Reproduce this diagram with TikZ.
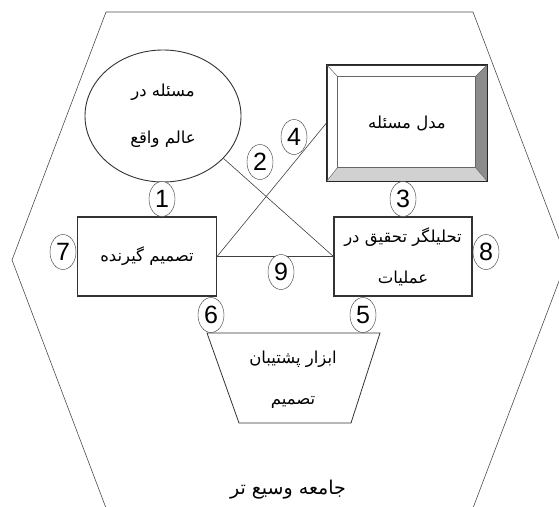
\documentclass[tikz,border=0pt]{standalone}
\usepackage{fontspec}
\setmainfont{Liberation Sans}
\newfontfamily\farsi[Script=Arabic]{DejaVu Sans}
\TeXXeTstate=1
\usetikzlibrary{shapes.geometric,calc}
\tikzset{
  numtag/.style={
    shape = ellipse,
    draw = black!80,
    fill = white,
    inner sep = 0pt,
    minimum width = 26pt,
    minimum height = 35pt,
    font = \fontsize{25}{25}\selectfont
  },
  plainbox/.style={
    draw = black!80,
    line width = 1.1pt,
    minimum width = 139pt,
    minimum height = 79pt,
    align = center,
    font = \farsi\fontsize{16.5}{41}\selectfont
  },
  link/.style={
    draw = black!75,
    line width = 0.6pt
  },
  every picture/.style = {
    x = 1pt,
    y = -1pt
  }
}

\begin{document}
\begin{tikzpicture}
  \useasboundingbox (0,0) rectangle (559,506);
  \clip (0,0) rectangle (559,506);
  % outer society
  \draw[black!70, line width=0.6pt] (106,12) -- (473,12) -- (567,260) -- (473,508)
    -- (106,508) -- (12,260) -- cycle;
  \node[font=\farsi\fontsize{19}{19}\selectfont] (soc) at (288,490) {\beginR جامعه وسیع تر\endR};

  \node[plainbox, shape=ellipse, line width=0.9pt, minimum width=156pt, minimum height=132pt]
    (circ) at (163,116) {\beginR مسئله در\endR\\[6pt]\beginR عالم واقع\endR};
  \node[plainbox, minimum width=160pt, minimum height=116pt] (mdl) at (407,123) {};
  \node[plainbox] (dm) at (147,256.5) {\beginR تصمیم گیرنده\endR};
  \node[plainbox, minimum width=138pt] (anl) at (403,256.5)
    {\beginR تحلیلگر تحقیق در\endR\\\beginR عملیات\endR};

  % decision support tools
  \draw[black!80, line width=0.8pt] (207,333) -- (380,333) -- (351,423) -- (239,423) -- cycle;
  \node[plainbox, draw=none] (tool) at (293,380) {\beginR ابزار پشتیبان\endR\\\beginR تصمیم\endR};

  % bevel of the model box
  \coordinate (m-north west) at ($(mdl.north west)+(11,12)$);
  \coordinate (m-north east) at ($(mdl.north east)+(-12,12)$);
  \coordinate (m-south east) at ($(mdl.south east)+(-12,-14)$);
  \coordinate (m-south west) at ($(mdl.south west)+(11,-14)$);
  \fill[black!18] (mdl.south west) -- (mdl.south east) -- (m-south east) -- (m-south west) -- cycle;
  \fill[black!45] (mdl.south east) -- (mdl.north east) -- (m-north east) -- (m-south east) -- cycle;
  \draw[black!60, line width=0.6pt] (m-north west) rectangle (m-south east);
  \foreach \c in {north west,north east,south east,south west}{
    \draw[black!60, line width=0.5pt] (mdl.\c) -- (m-\c);
  }
  \draw[black!85, line width=1.1pt] (mdl.north west) rectangle (mdl.south east);
  \node[font=\farsi\fontsize{16.5}{16.5}\selectfont] (mtxt) at (mdl.center) {\beginR مدل مسئله\endR};

  % links
  \draw[link] (circ.-35.5) -- (anl.west);
  \draw[link] (mdl.west) -- (dm.east);
  \draw[link] (dm.east) -- (anl.west);

  \foreach \n/\x/\y in {1/162/199, 2/260/162, 3/403/199, 4/294/137, 5/363/315,
                        6/211/315, 7/63/252, 8/486/252, 9/281/272}{
    \node[numtag] (t\n) at (\x,\y) {\n};
  }
\end{tikzpicture}
\end{document}
